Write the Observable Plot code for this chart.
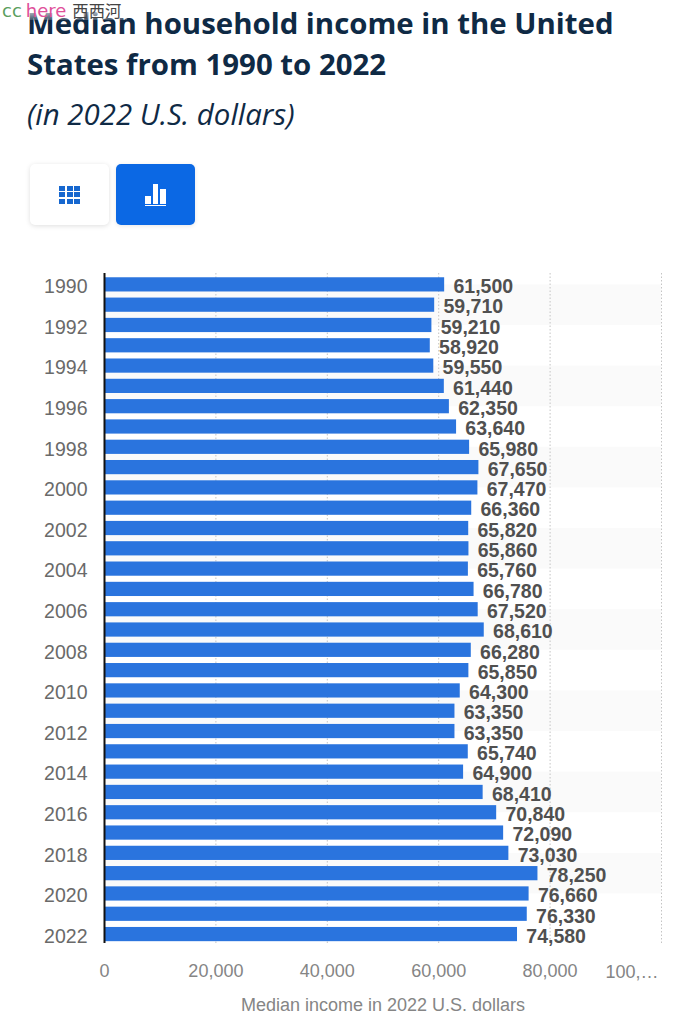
<!DOCTYPE html>
<html><head><meta charset="utf-8">
<script src="https://cdn.jsdelivr.net/npm/d3@7"></script>
<script src="https://cdn.jsdelivr.net/npm/@observablehq/plot@0.6"></script>
<style>
html,body{margin:0;padding:0;background:#fff;}
body{position:relative;width:696px;height:1024px;overflow:hidden;}
#title{position:absolute;left:27px;top:3px;font:700 29.4px/41px "Open Sans";color:#0f2a45;width:660px;}
#sub{position:absolute;left:27px;top:94px;font:italic 400 29.4px/40px "Open Sans";color:#0f2a45;}
#wm{position:absolute;left:2px;top:0;height:20px;font:18px/20px "DejaVu Sans";white-space:nowrap;}
#wm .a{color:#5a9e5e}#wm .b{color:#e0509a;margin-left:4px}#wm .c{color:#444;margin-left:6px;font:16.3px/20px "Noto Sans CJK SC"}
#fade{position:absolute;left:27px;top:0;width:100px;height:20px;background:linear-gradient(#fff 30%,rgba(255,255,255,.2));}
.btn{position:absolute;top:164px;width:79px;height:61px;border-radius:5px;box-sizing:border-box;display:flex;align-items:center;justify-content:center;}
#b1{left:30px;background:#fff;box-shadow:0 1px 5px rgba(0,0,0,.13);}
#b2{left:116px;background:#0b68e4;box-shadow:0 1px 4px rgba(0,0,0,.1);}
#grid{display:grid;grid-template-columns:repeat(3,6px);grid-auto-rows:5px;gap:1.5px;}
#grid i{background:#1667cf;display:block;}
#barsIcon{display:flex;align-items:flex-end;gap:2px;border-bottom:1.5px solid #fff;padding:0 0 1.5px;width:21px;justify-content:center;box-sizing:border-box;height:23px}
#barsIcon i{display:block;background:#fff;width:5.5px;}
#chart{position:absolute;left:0;top:260px;}
#chart svg{overflow:visible;}
</style></head><body>
<div id="title">Median household income in the United States from 1990 to 2022</div>
<div id="fade"></div>
<div id="wm"><span class="a">cc</span><span class="b">here</span><span class="c">西西河</span></div>
<div id="sub">(in 2022 U.S. dollars)</div>
<div class="btn" id="b1"><div id="grid"><i></i><i></i><i></i><i></i><i></i><i></i><i></i><i></i><i></i></div></div>
<div class="btn" id="b2"><div id="barsIcon"><i style="height:8px"></i><i style="height:20px"></i><i style="height:15px"></i></div></div>
<div id="chart"></div>
<script>
const years = d3.range(1990, 2023);
const incomes = [61500,59710,59210,58920,59550,61440,62350,63640,65980,67650,67470,66360,65820,65860,65760,66780,67520,68610,66280,65850,64300,63350,63350,65740,64900,68410,70840,72090,73030,78250,76660,76330,74580];
const xTicks = [0,20000,40000,60000,80000];
const xMax = 100000;
const yTicks = years.filter(y => y % 2 === 0);
const bandStarts = [1990,1994,1998,2002,2006,2010,2014,2018];
const rows = years.map((year,i) => ({year, income: incomes[i]}));
const fmt = d3.format(",");
const plot = Plot.plot({
  width: 696, height: 764,
  marginLeft: 104, marginRight: 35, marginTop: 13, marginBottom: 81,
  style: {background: "transparent", overflow: "visible"},
  x: {domain: [0,xMax]},
  y: {domain: [2022.44,1989.44]},
  marks: [
    Plot.rect(bandStarts, {x1: 0, x2: xMax, y1: d => d, y2: d => d + 2, fill: "#fafafa"}),
    Plot.ruleX([...xTicks.slice(1), xMax], {stroke: "#c4c4c4", strokeWidth: 1, strokeDasharray: "1.5 2"}),
    Plot.rectX(rows, {x1: 0, x2: "income", y1: d => d.year - 0.35, y2: d => d.year + 0.35, fill: "#2a74de", insetRight: 2.4}),
    Plot.ruleX([0], {stroke: "#111", strokeWidth: 2}),
    Plot.text(rows, {x: "income", y: "year", text: d => fmt(d.income), textAnchor: "start", dx: 6.4, dy: 2, fontSize: 19.5, fontWeight: 700, fontFamily: "Liberation Sans", fill: "#505050"}),
    Plot.axisY({ticks: yTicks, tickFormat: d => String(d), tickSize: 0, tickPadding: 17, dy: 2, fontSize: 19.5, fontFamily: "Liberation Sans", color: "#6a6a6a", label: null}),
    Plot.axisX({ticks: xTicks, tickFormat: d => fmt(d), tickSize: 0, tickPadding: 21, fontSize: 18, fontFamily: "Liberation Sans", color: "#858585", label: "Median income in 2022 U.S. dollars", labelAnchor: "center", labelArrow: "none", labelOffset: 67}),
    Plot.text([xMax], {x: d => d, frameAnchor: "bottom", dy: 29, text: () => "100,…", textAnchor: "end", dx: -3, lineAnchor: "middle", fontSize: 18, fontFamily: "Liberation Sans", fill: "#858585"})
  ]
});
document.getElementById("chart").appendChild(plot);
</script>
</body></html>
